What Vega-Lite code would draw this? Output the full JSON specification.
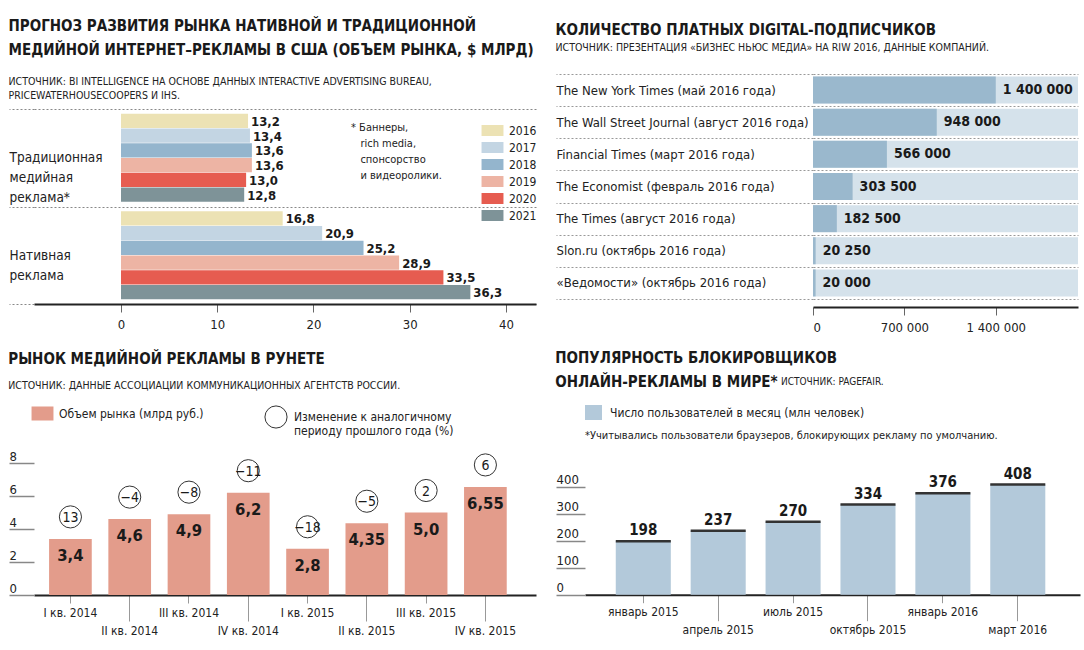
{
  "$schema": "https://vega.github.io/schema/vega-lite/v6.json",
  "background": "white",
  "padding": {"left": 8, "top": 18, "right": 5, "bottom": 2},
  "columns": 2,
  "align": "none",
  "spacing": {"row": 17, "column": 18},
  "resolve": {"scale": {"color": "independent", "fill": "independent", "shape": "independent"}, "legend": {"color": "independent", "fill": "independent", "shape": "independent"}},
  "config": {
    "font": "DejaVu Sans Condensed, DejaVu Sans, sans-serif",
    "view": {"stroke": null},
    "locale": {"number": {"decimal": ",", "thousands": " ", "grouping": [3], "currency": ["", ""]}},
    "axis": {"labelFont": "DejaVu Sans Condensed, DejaVu Sans, sans-serif", "labelColor": "#222", "labelFontSize": 12, "domainColor": "#222", "tickColor": "#666"},
    "legend": {"labelFont": "DejaVu Sans Condensed, DejaVu Sans, sans-serif", "titleFont": "DejaVu Sans Condensed, DejaVu Sans, sans-serif", "labelColor": "#222", "titleColor": "#222", "layout": {"top": {"anchor": "start", "direction": "horizontal", "margin": 60}}},
    "title": {"font": "DejaVu Sans Condensed, DejaVu Sans, sans-serif", "subtitleFont": "DejaVu Sans Condensed, DejaVu Sans, sans-serif", "fontSize": 15, "fontWeight": "bold", "color": "#1a1a1a", "subtitleColor": "#222", "subtitleFontSize": 10.5, "anchor": "start", "lineHeight": 24, "subtitleLineHeight": 14},
    "text": {"font": "DejaVu Sans Condensed, DejaVu Sans, sans-serif"}
  },
  "concat": [
    {
      "title": {"text": ["ПРОГНОЗ РАЗВИТИЯ РЫНКА НАТИВНОЙ И ТРАДИЦИОННОЙ", "МЕДИЙНОЙ ИНТЕРНЕТ–РЕКЛАМЫ В США (ОБЪЕМ РЫНКА, $ МЛРД)"], "subtitle": ["ИСТОЧНИК: BI INTELLIGENCE НА ОСНОВЕ ДАННЫХ INTERACTIVE ADVERTISING BUREAU,", "PRICEWATERHOUSECOOPERS И IHS."], "subtitlePadding": 19, "offset": -34},
      "width": 502,
      "height": 230,
      "data": {"values": [
        {"group": "Традиционная|медийная|реклама*", "year": "2016", "value": 13.2},
        {"group": "Традиционная|медийная|реклама*", "year": "2017", "value": 13.4},
        {"group": "Традиционная|медийная|реклама*", "year": "2018", "value": 13.6},
        {"group": "Традиционная|медийная|реклама*", "year": "2019", "value": 13.6},
        {"group": "Традиционная|медийная|реклама*", "year": "2020", "value": 13.0},
        {"group": "Традиционная|медийная|реклама*", "year": "2021", "value": 12.8},
        {"group": "Нативная|реклама", "year": "2016", "value": 16.8},
        {"group": "Нативная|реклама", "year": "2017", "value": 20.9},
        {"group": "Нативная|реклама", "year": "2018", "value": 25.2},
        {"group": "Нативная|реклама", "year": "2019", "value": 28.9},
        {"group": "Нативная|реклама", "year": "2020", "value": 33.5},
        {"group": "Нативная|реклама", "year": "2021", "value": 36.3}
      ]},
      "encoding": {
        "y": {"field": "group", "type": "nominal", "sort": null, "scale": {"paddingInner": 0, "paddingOuter": 0.1795, "align": 1},
          "axis": {"title": null, "domain": false, "ticks": true, "tickBand": "extent", "tickSize": 25, "tickColor": "#888", "tickDash": [2, 2], "grid": true, "gridColor": "#888", "gridDash": [2, 2], "labelAlign": "left", "labelPadding": 0, "labelFontSize": 13.5, "labelLineHeight": 20, "labelExpr": "split(datum.label, '|')", "labelLimit": 0}},
        "yOffset": {"field": "year", "type": "nominal", "sort": null, "scale": {"paddingInner": 0.05, "paddingOuter": 0.33}},
        "x": {"field": "value", "type": "quantitative", "scale": {"domain": [-9.04, 43.12], "nice": false, "zero": false},
          "axis": {"title": null, "values": [0, 10, 20, 30, 40], "grid": false, "domainWidth": 2, "tickSize": 8, "labelPadding": 6, "labelFontSize": 13}}
      },
      "layer": [
        {"mark": {"type": "bar"},
         "encoding": {"x2": {"datum": 0}, "color": {"field": "year", "type": "nominal",
           "scale": {"domain": ["2016", "2017", "2018", "2019", "2020", "2021"], "range": ["#ece2b4", "#c3d5e3", "#94b5cd", "#edb4a4", "#e65c50", "#7e9398"]},
           "legend": {"orient": "none", "legendX": 317, "legendY": 48, "padding": 0, "title": ["* Баннеры,", "\u200b\u00a0\u00a0\u00a0rich media,", "\u200b\u00a0\u00a0\u00a0спонсорство", "\u200b\u00a0\u00a0\u00a0и видеоролики."], "titleOrient": "left", "titleAnchor": "start", "titleBaseline": "top", "titleFontSize": 11, "titleFontWeight": "normal", "titleLineHeight": 16, "titlePadding": 42, "labelFontSize": 12, "symbolType": "M-1.33,-0.67H1.33V0.67H-1.33Z", "symbolSize": 272, "symbolStrokeWidth": 0, "symbolOpacity": 1, "rowPadding": 2, "labelOffset": 8}}}},
        {"mark": {"type": "text", "align": "left", "baseline": "middle", "dx": 3, "dy": 1, "fontSize": 13, "fontWeight": "bold", "color": "#1a1a1a"},
         "encoding": {"text": {"field": "value", "type": "quantitative", "format": ".1f"}}}
      ]
    },
    {
      "title": {"text": "КОЛИЧЕСТВО ПЛАТНЫХ DIGITAL-ПОДПИСЧИКОВ", "subtitle": "ИСТОЧНИК: ПРЕЗЕНТАЦИЯ «БИЗНЕС НЬЮС МЕДИА» НА RIW 2016, ДАННЫЕ КОМПАНИЙ.", "subtitlePadding": 5, "offset": 15},
      "width": 265,
      "height": 225,
      "data": {"values": [
        {"name": "The New York Times (май 2016 года)", "value": 1400000},
        {"name": "The Wall Street Journal (август 2016 года)", "value": 948000},
        {"name": "Financial Times (март 2016 года)", "value": 566000},
        {"name": "The Economist (февраль 2016 года)", "value": 303500},
        {"name": "The Times (август 2016 года)", "value": 182500},
        {"name": "Slon.ru (октябрь 2016 года)", "value": 20250},
        {"name": "«Ведомости» (октябрь 2016 года)", "value": 20000}
      ]},
      "encoding": {
        "y": {"field": "name", "type": "nominal", "sort": null, "scale": {"paddingInner": 0, "paddingOuter": 0},
          "axis": {"title": null, "domain": false, "ticks": true, "tickBand": "extent", "tickSize": 257, "tickColor": "#999", "tickDash": [2, 2], "grid": true, "gridColor": "#999", "gridDash": [2, 2], "labelAlign": "left", "labelPadding": 0, "labelFontSize": 13, "labelLimit": 0}}
      },
      "layer": [
        {"mark": {"type": "bar", "color": "#d5e2eb", "height": {"band": 0.84}},
         "encoding": {"x": {"datum": 2030000, "type": "quantitative", "scale": {"domain": [0, 2030000], "nice": false},
           "axis": {"title": null, "values": [0, 700000, 1400000], "format": ",d", "grid": false, "offset": 8, "domainWidth": 2, "tickSize": 8, "labelPadding": 6, "labelFontSize": 13}}}},
        {"mark": {"type": "bar", "color": "#9ab8cd", "height": {"band": 0.84}},
         "encoding": {"x": {"field": "value", "type": "quantitative", "scale": {"domain": [0, 2030000], "nice": false},
           "axis": {"title": null, "values": [0, 700000, 1400000], "format": ",d", "grid": false, "offset": 8, "domainWidth": 2, "tickSize": 8, "labelPadding": 6, "labelFontSize": 13}}}},
        {"mark": {"type": "text", "align": "left", "baseline": "middle", "dx": 7, "fontSize": 14, "fontWeight": "bold", "color": "#1a1a1a"},
         "encoding": {"x": {"field": "value", "type": "quantitative"}, "text": {"field": "value", "type": "quantitative", "format": ",d"}}}
      ]
    },
    {
      "title": {"text": "РЫНОК МЕДИЙНОЙ РЕКЛАМЫ В РУНЕТЕ", "subtitle": "ИСТОЧНИК: ДАННЫЕ АССОЦИАЦИИ КОММУНИКАЦИОННЫХ АГЕНТСТВ РОССИИ.", "subtitlePadding": 14, "offset": 14},
      "width": 502,
      "height": 132,
      "data": {"values": [
        {"q": "I кв. 2014", "value": 3.4, "label": "3,4", "change": 13},
        {"q": "II кв. 2014", "value": 4.6, "label": "4,6", "change": -4},
        {"q": "III кв. 2014", "value": 4.9, "label": "4,9", "change": -8},
        {"q": "IV кв. 2014", "value": 6.2, "label": "6,2", "change": -11},
        {"q": "I кв. 2015", "value": 2.8, "label": "2,8", "change": -18},
        {"q": "II кв. 2015", "value": 4.35, "label": "4,35", "change": -5},
        {"q": "III кв. 2015", "value": 5.0, "label": "5,0", "change": 2},
        {"q": "IV кв. 2015", "value": 6.55, "label": "6,55", "change": 6}
      ]},
      "encoding": {
        "x": {"field": "q", "type": "nominal", "sort": null, "scale": {"paddingInner": 0.28, "paddingOuter": 0.374, "align": 0.34},
          "axis": {"title": null, "labelAngle": 0, "domainWidth": 2, "domainColor": "#222", "tickColor": "#999",
            "tickSize": {"condition": {"test": "datum.value === 'II кв. 2014' || datum.value === 'IV кв. 2014' || datum.value === 'II кв. 2015' || datum.value === 'IV кв. 2015'", "value": 26}, "value": 8},
            "labelPadding": 4, "labelBaseline": "top", "labelFontSize": 12}},
        "y": {"field": "value", "type": "quantitative", "scale": {"domain": [0, 8], "nice": false},
          "axis": {"title": null, "values": [0, 2, 4, 6, 8], "domain": false, "grid": false, "ticks": true, "tickSize": 25, "tickColor": "#888", "tickWidth": 1.5, "labelAlign": "left", "labelBaseline": "alphabetic", "labelPadding": 0, "labelOffset": -3, "labelFontSize": 13}}
      },
      "layer": [
        {"mark": {"type": "bar", "color": "#e39c8b"},
         "encoding": {"fill": {"datum": "Объем рынка (млрд руб.)", "type": "nominal", "scale": {"range": ["#e39c8b"]},
           "legend": {"orient": "top", "title": null, "offset": 26, "symbolType": "M-1.33,-0.85H1.33V0.85H-1.33Z", "symbolSize": 272, "symbolStrokeWidth": 0, "symbolOpacity": 1, "labelFontSize": 12, "labelOffset": 8, "labelLimit": 0}}}},
        {"mark": {"type": "text", "baseline": "middle", "dy": 17, "fontSize": 16.5, "fontWeight": "bold", "color": "#1a1a1a"},
         "encoding": {"text": {"field": "label", "type": "nominal"}}},
        {"mark": {"type": "point", "size": 490, "filled": false, "color": "#333", "strokeWidth": 1, "opacity": 1, "yOffset": -22},
         "encoding": {"shape": {"datum": "Изменение к аналогичному|периоду прошлого года (%)", "type": "nominal", "scale": {"range": ["circle"]},
           "legend": {"orient": "top", "title": null, "offset": 26, "symbolStrokeColor": "#333", "symbolStrokeWidth": 1, "symbolSize": 490, "labelFontSize": 12, "labelLineHeight": 18, "labelExpr": "split(datum.label, '|')", "labelLimit": 0, "labelOffset": 6}}}},
        {"mark": {"type": "text", "baseline": "middle", "dy": -21, "fontSize": 14, "color": "#1a1a1a"},
         "encoding": {"text": {"field": "change", "type": "quantitative", "format": "d"}}}
      ]
    },
    {
      "title": {"text": ["ПОПУЛЯРНОСТЬ БЛОКИРОВЩИКОВ", "ОНЛАЙН-РЕКЛАМЫ В МИРЕ*"], "subtitle": "\u200b\u00a0\u00a0\u00a0\u00a0\u00a0\u00a0\u00a0\u00a0\u00a0\u00a0\u00a0\u00a0\u00a0\u00a0\u00a0\u00a0\u00a0\u00a0\u00a0\u00a0\u00a0\u00a0\u00a0\u00a0\u00a0\u00a0\u00a0\u00a0\u00a0\u00a0\u00a0\u00a0\u00a0\u00a0\u00a0\u00a0\u00a0\u00a0\u00a0\u00a0\u00a0\u00a0\u00a0\u00a0\u00a0\u00a0\u00a0\u00a0\u00a0\u00a0\u00a0\u00a0\u00a0\u00a0\u00a0\u00a0\u00a0\u00a0\u00a0\u00a0\u00a0\u00a0\u00a0\u00a0\u00a0\u00a0\u00a0\u00a0\u00a0\u00a0\u00a0\u00a0\u00a0\u00a0\u00a0\u00a0\u00a0\u00a0\u00a0ИСТОЧНИК: PAGEFAIR.", "subtitleFontSize": 10, "subtitlePadding": -13, "offset": 14},
      "width": 495,
      "height": 110.7,
      "data": {"values": [
        {"m": "январь 2015", "value": 198},
        {"m": "апрель 2015", "value": 237},
        {"m": "июль 2015", "value": 270},
        {"m": "октябрь 2015", "value": 334},
        {"m": "январь 2016", "value": 376},
        {"m": "март 2016", "value": 408}
      ]},
      "encoding": {
        "x": {"field": "m", "type": "nominal", "sort": null, "scale": {"paddingInner": 0.265, "paddingOuter": 0.437, "align": 0.47},
          "axis": {"title": null, "labelAngle": 0, "domainWidth": 2, "domainColor": "#222", "tickColor": "#999",
            "tickSize": {"condition": {"test": "datum.value === 'апрель 2015' || datum.value === 'октябрь 2015' || datum.value === 'март 2016'", "value": 26}, "value": 8},
            "labelPadding": 4, "labelBaseline": "top", "labelFontSize": 12}},
        "y": {"field": "value", "type": "quantitative", "scale": {"domain": [0, 410], "nice": false},
          "axis": {"title": null, "values": [0, 100, 200, 300, 400], "domain": false, "grid": false, "ticks": true, "tickSize": 29, "tickColor": "#888", "tickWidth": 1.5, "labelAlign": "left", "labelBaseline": "alphabetic", "labelPadding": 0, "labelOffset": -3, "labelFontSize": 13}}
      },
      "layer": [
        {"mark": {"type": "bar", "color": "#b3c9da"},
         "encoding": {"fill": {"datum": "Число пользователей в месяц (млн человек)", "type": "nominal", "scale": {"range": ["#b3c9da"]},
           "legend": {"orient": "top", "title": "*Учитывались пользователи браузеров, блокирующих рекламу по умолчанию.", "titleOrient": "bottom", "titleAnchor": "start", "titleFontSize": 11, "titleFontWeight": "normal", "titlePadding": 10, "titleLimit": 0, "offset": 43, "symbolType": "M-1,-0.88H1V0.88H-1Z", "symbolSize": 289, "symbolStrokeWidth": 0, "symbolOpacity": 1, "labelFontSize": 12, "labelOffset": 8, "labelLimit": 0}}}},
        {"mark": {"type": "bar", "fill": "transparent", "stroke": "#333", "strokeWidth": 2.5},
         "encoding": {"y": {"field": "value", "type": "quantitative"}, "y2": {"field": "value"}}},
        {"mark": {"type": "text", "baseline": "alphabetic", "dy": -6, "fontSize": 15, "fontWeight": "bold", "color": "#1a1a1a"},
         "encoding": {"text": {"field": "value", "type": "quantitative", "format": "d"}}}
      ]
    }
  ]
}
